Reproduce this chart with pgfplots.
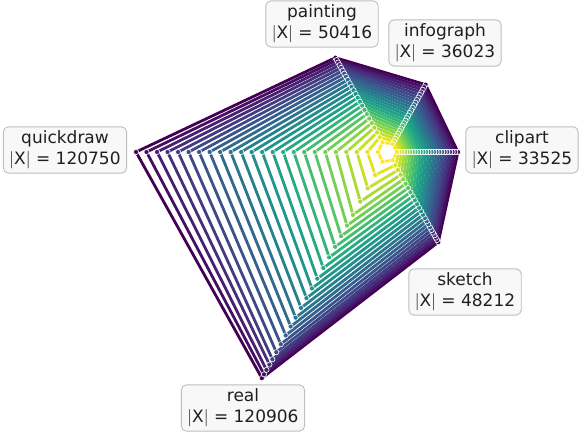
\documentclass[border=0pt]{standalone}
\usepackage{pgfplots}
\pgfplotsset{compat=1.18}
\usepackage{fontspec}
\setmainfont{DejaVu Sans}
\definecolor{c0}{RGB}{68,1,84}
\definecolor{c1}{RGB}{70,16,98}
\definecolor{c2}{RGB}{72,31,113}
\definecolor{c3}{RGB}{70,46,122}
\definecolor{c4}{RGB}{67,60,130}
\definecolor{c5}{RGB}{63,73,136}
\definecolor{c6}{RGB}{58,84,139}
\definecolor{c7}{RGB}{53,96,141}
\definecolor{c8}{RGB}{48,107,141}
\definecolor{c9}{RGB}{43,118,142}
\definecolor{c10}{RGB}{39,129,141}
\definecolor{c11}{RGB}{35,140,140}
\definecolor{c12}{RGB}{33,150,138}
\definecolor{c13}{RGB}{34,160,135}
\definecolor{c14}{RGB}{37,170,130}
\definecolor{c15}{RGB}{52,180,122}
\definecolor{c16}{RGB}{67,190,113}
\definecolor{c17}{RGB}{89,198,100}
\definecolor{c18}{RGB}{113,206,86}
\definecolor{c19}{RGB}{140,213,70}
\definecolor{c20}{RGB}{169,219,51}
\definecolor{c21}{RGB}{197,224,38}
\definecolor{c22}{RGB}{225,228,37}
\definecolor{c23}{RGB}{253,231,37}
\definecolor{boxedge}{RGB}{190,190,190}
\definecolor{boxfill}{RGB}{248,248,248}
\pgfplotsset{poly/.style={color=#1, line width=2.8pt, line join=round, line cap=round,
  mark=*, mark size=2.6pt, mark options={fill=#1, draw=white, line width=0.6pt, solid},
  data cs=polar}}
\tikzset{lab/.style={draw=boxedge, fill=boxfill, rounded corners=5pt, line width=0.9pt,
  align=center, inner xsep=6pt, inner ysep=4pt, font=\fontsize{17}{21}\selectfont, text=black!88}}
\begin{document}
\begin{tikzpicture}
\begin{axis}[
  scale only axis, width=582pt, height=436pt,
  xmin=-185930, xmax=92965, ymin=-131492, ymax=70376,
  hide axis, clip=false]
\path (rel axis cs:0,0) rectangle (rel axis cs:1,1);
\addplot[poly=c0]  coordinates {(0,33525) (60,36023) (120,50416) (180,120750) (240,120906) (300,48212) (360,33525)};
\addplot[poly=c1]  coordinates {(0,32254) (60,34644) (120,49152) (180,115710) (240,118866) (300,47050) (360,32254)};
\addplot[poly=c2]  coordinates {(0,30982) (60,33265) (120,47824) (180,110670) (240,116498) (300,45821) (360,30982)};
\addplot[poly=c3]  coordinates {(0,29711) (60,31886) (120,46432) (180,105630) (240,113656) (300,44525) (360,29711)};
\addplot[poly=c4]  coordinates {(0,28439) (60,30507) (120,44976) (180,100590) (240,110814) (300,43161) (360,28439)};
\addplot[poly=c5]  coordinates {(0,27168) (60,29128) (120,43456) (180,95550) (240,107026) (300,41728) (360,27168)};
\addplot[poly=c6]  coordinates {(0,25896) (60,27749) (120,41873) (180,90510) (240,102763) (300,40229) (360,25896)};
\addplot[poly=c7]  coordinates {(0,24625) (60,26370) (120,40226) (180,85470) (240,98027) (300,38663) (360,24625)};
\addplot[poly=c8]  coordinates {(0,23353) (60,24991) (120,38515) (180,80430) (240,93291) (300,37028) (360,23353)};
\addplot[poly=c9]  coordinates {(0,22082) (60,23612) (120,36741) (180,75390) (240,88555) (300,35325) (360,22082)};
\addplot[poly=c10] coordinates {(0,20810) (60,22233) (120,34903) (180,70350) (240,83346) (300,33556) (360,20810)};
\addplot[poly=c11] coordinates {(0,19539) (60,20854) (120,33001) (180,65310) (240,78135) (300,31719) (360,19539)};
\addplot[poly=c12] coordinates {(0,18267) (60,19475) (120,31035) (180,60270) (240,72926) (300,29813) (360,18267)};
\addplot[poly=c13] coordinates {(0,16996) (60,18096) (120,29005) (180,55230) (240,67716) (300,27841) (360,16996)};
\addplot[poly=c14] coordinates {(0,15724) (60,16717) (120,26912) (180,50190) (240,62033) (300,25801) (360,15724)};
\addplot[poly=c15] coordinates {(0,14453) (60,15338) (120,24754) (180,45150) (240,56349) (300,23693) (360,14453)};
\addplot[poly=c16] coordinates {(0,13181) (60,13959) (120,22533) (180,40110) (240,50666) (300,21519) (360,13181)};
\addplot[poly=c17] coordinates {(0,11910) (60,12580) (120,20249) (180,35070) (240,44982) (300,19276) (360,11910)};
\addplot[poly=c18] coordinates {(0,10638) (60,11201) (120,17900) (180,30030) (240,39300) (300,16966) (360,10638)};
\addplot[poly=c19] coordinates {(0,9367) (60,9822) (120,15488) (180,24990) (240,33617) (300,14587) (360,9367)};
\addplot[poly=c20] coordinates {(0,8095) (60,8443) (120,13012) (180,19950) (240,26513) (300,12142) (360,8095)};
\addplot[poly=c21] coordinates {(0,6824) (60,7064) (120,10471) (180,14910) (240,19408) (300,9629) (360,6824)};
\addplot[poly=c22] coordinates {(0,5552) (60,5685) (120,7868) (180,9870) (240,12304) (300,7048) (360,5552)};
\addplot[poly=c23] coordinates {(0,4281) (60,4306) (120,5200) (180,4830) (240,5200) (300,4400) (360,4281)};
\node[lab] at (rel axis cs:0.5533,0.9450) {painting\\$|$X$|$ = 50416};
\node[lab] at (rel axis cs:0.7646,0.9014) {infograph\\$|$X$|$ = 36023};
\node[lab] at (rel axis cs:0.8969,0.6560) {clipart\\$|$X$|$ = 33525};
\node[lab] at (rel axis cs:0.1117,0.6560) {quickdraw\\$|$X$|$ = 120750};
\node[lab] at (rel axis cs:0.7990,0.3303) {sketch\\$|$X$|$ = 48212};
\node[lab] at (rel axis cs:0.4175,0.0642) {real\\$|$X$|$ = 120906};
\end{axis}
\end{tikzpicture}
\end{document}
